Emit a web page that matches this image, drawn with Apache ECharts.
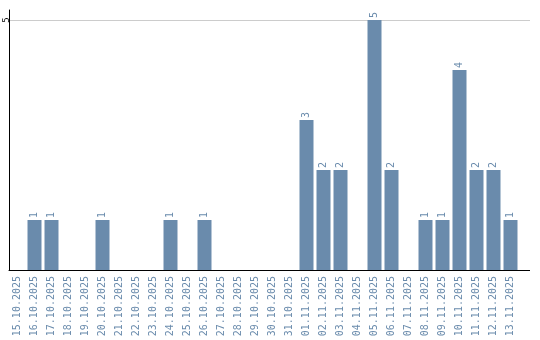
<!DOCTYPE html>
<html><head><meta charset="utf-8">
<script src="https://cdn.jsdelivr.net/npm/echarts@6/dist/echarts.min.js"></script>
<style>html,body{margin:0;padding:0;background:#fff}#c{width:540px;height:340px}</style>
</head><body><div id="c"></div>
<script>
const categories = ["15.10.2025","16.10.2025","17.10.2025","18.10.2025","19.10.2025","20.10.2025","21.10.2025","22.10.2025","23.10.2025","24.10.2025","25.10.2025","26.10.2025","27.10.2025","28.10.2025","29.10.2025","30.10.2025","31.10.2025","01.11.2025","02.11.2025","03.11.2025","04.11.2025","05.11.2025","06.11.2025","07.11.2025","08.11.2025","09.11.2025","10.11.2025","11.11.2025","12.11.2025","13.11.2025"];
const counts = [0,1,1,0,0,1,0,0,0,1,0,1,0,0,0,0,0,3,2,2,0,5,2,0,1,1,4,2,2,1];
const yTicks = [5];

const barColor = '#6a8bac';
const font = 'DejaVu Sans Mono';
const chart = echarts.init(document.getElementById('c'));
chart.setOption({
  animation: false,
  grid: {left: 9, top: 10, width: 510, bottom: 70, containLabel: false, outerBoundsMode: 'none'},
  xAxis: {
    type: 'category', data: categories,
    axisLine: {lineStyle: {color: '#000', width: 1}},
    axisTick: {show: false},
    axisLabel: {rotate: 90, interval: 0, color: barColor, fontFamily: font, fontSize: 10, margin: 6}
  },
  yAxis: {
    type: 'value', min: 0, max: 5.2, interval: 5,
    axisLine: {show: true, lineStyle: {color: '#000', width: 1}},
    axisTick: {show: false},
    axisLabel: {rotate: 90, color: '#000', fontFamily: font, fontSize: 9, margin: -2,
      align: 'center', verticalAlign: 'bottom',
      formatter: v => yTicks.indexOf(v) >= 0 ? String(v) : ''},
    splitLine: {show: true, showMinLine: false, showMaxLine: false, lineStyle: {color: '#cccccc', width: 1}}
  },
  series: [{
    type: 'bar', data: counts, barWidth: 14,
    itemStyle: {color: barColor},
    label: {show: true, position: 'top', distance: 2, rotate: 90, align: 'left', verticalAlign: 'middle',
      color: barColor, fontFamily: font, fontSize: 10,
      formatter: p => p.value ? String(p.value) : ''}
  }]
});
// extend axis line and gridline to the right edge of the frame
const p0 = chart.convertToPixel({xAxisIndex: 0, yAxisIndex: 0}, [categories.length - 1, 0]);
const p5 = chart.convertToPixel({xAxisIndex: 0, yAxisIndex: 0}, [categories.length - 1, yTicks[0]]);
const xEnd = 519, xExt = 530;
chart.setOption({graphic: [
  {type: 'line', shape: {x1: xEnd, y1: Math.round(p0[1]) + 0.5, x2: xExt, y2: Math.round(p0[1]) + 0.5}, style: {stroke: '#000', lineWidth: 1}},
  {type: 'line', shape: {x1: xEnd, y1: Math.round(p5[1]) + 0.5, x2: xExt, y2: Math.round(p5[1]) + 0.5}, style: {stroke: '#cccccc', lineWidth: 1}}
]});
</script></body></html>
